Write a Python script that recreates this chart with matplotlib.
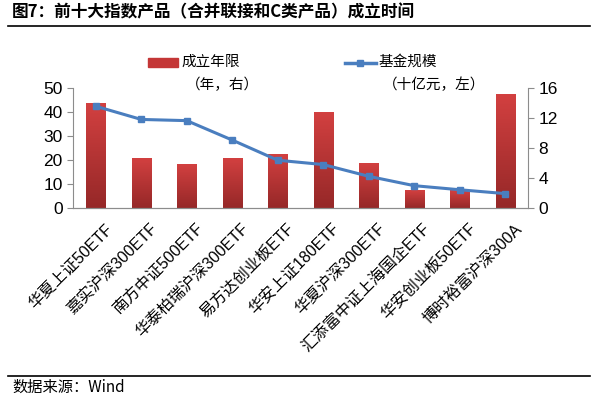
import numpy as np
import matplotlib
matplotlib.use('Agg')
import matplotlib.pyplot as plt
from matplotlib.lines import Line2D
from matplotlib.patches import Rectangle

plt.rcParams['font.family'] = ['Liberation Sans', 'Noto Sans CJK SC', 'DejaVu Sans']

funds = ['华夏上证50ETF', '嘉实沪深300ETF', '南方中证500ETF', '华泰柏瑞沪深300ETF',
         '易方达创业板ETF', '华安上证180ETF', '华夏沪深300ETF', '汇添富中证上海国企ETF',
         '华安创业板50ETF', '博时裕富沪深300A']
years = [13.9, 6.6, 5.8, 6.6, 7.2, 12.7, 5.9, 2.3, 2.4, 15.2]      # 成立年限 (右)
scale = [42.4, 36.9, 36.4, 28.3, 19.9, 18.1, 13.2, 9.3, 7.6, 6.0]  # 基金规模 (左)

fig = plt.figure(figsize=(5.97, 3.96), dpi=100)
ax = fig.add_axes([73/597, 1-208/396, 455/597, 120/396])
ax2 = ax.twinx()

x = np.arange(len(funds))
w = 0.42
# gradient bars on right axis
grad = np.linspace(0, 1, 64).reshape(-1, 1)
cmap = matplotlib.colors.LinearSegmentedColormap.from_list('r', ['#962828', '#d24040'])
for xi, h in zip(x, years):
    ax2.imshow(grad, extent=[xi-w/2, xi+w/2, 0, h], origin='lower', cmap=cmap,
               aspect='auto', zorder=1)
ax2.set_ylim(0, 16)
ax2.set_xlim(-0.5, len(funds)-0.5)

# line on left axis, drawn above bars
ax.set_zorder(ax2.get_zorder()+1)
ax.patch.set_visible(False)
ax.plot(x, scale, color='#4a7ebf', lw=2.2, marker='s', ms=5, zorder=3)
ax.set_ylim(0, 50)
ax.set_xlim(-0.5, len(funds)-0.5)
ax.set_yticks([0, 10, 20, 30, 40, 50])
ax2.set_yticks([0, 4, 8, 12, 16])

for a in (ax, ax2):
    for s in a.spines.values():
        s.set_color('#8c8c8c')
    a.spines['top'].set_visible(False)
    a.tick_params(colors='#8c8c8c', labelcolor='black', labelsize=12.5, length=4)
ax.spines['right'].set_visible(False)
ax2.spines['left'].set_visible(False)

ax.set_xticks(np.arange(len(funds)+1)-0.5)
ax.set_xticklabels([])
ax.tick_params(axis='x', length=5)
ax2.set_xticks([])
for xi, name in zip(x, funds):
    ax.text(xi+0.2, -5.5, name, rotation=45, ha='right', va='top',
            rotation_mode='anchor', fontsize=11.5,
            family=['Liberation Sans', 'Noto Sans CJK SC'])

# legend
fig.patches.append(Rectangle((148/597, 1-67/396), 30/597, 9/396, transform=fig.transFigure,
                             color='#c43636'))
fig.text(181/597, 1-62/396, '成立年限', fontsize=10.5, va='center', family=['Noto Sans CJK SC'])
fig.text(186/597, 1-85/396, '（年，右）', fontsize=10.5, va='center', family=['Noto Sans CJK SC'])
fig.lines.append(Line2D([345/597, 376/597], [1-63/396]*2, transform=fig.transFigure,
                        color='#4a7ebf', lw=2.5))
fig.lines.append(Line2D([360/597], [1-63/396], transform=fig.transFigure,
                        color='#4a7ebf', marker='s', ms=5, lw=0))
fig.text(379/597, 1-62/396, '基金规模', fontsize=10.5, va='center', family=['Noto Sans CJK SC'])
fig.text(383/597, 1-85/396, '（十亿元，左）', fontsize=10.5, va='center', family=['Noto Sans CJK SC'])

# title and footer
fig.text(12/597, 1-12/396, '图7：前十大指数产品（合并联接和C类产品）成立时间', fontsize=12,
         fontweight='bold', va='center', family=['Noto Sans CJK SC'])
fig.lines.append(Line2D([8/597, 590/597], [1-26/396]*2, transform=fig.transFigure,
                        color='black', lw=1.2))
fig.lines.append(Line2D([8/597, 590/597], [1-376/396]*2, transform=fig.transFigure,
                        color='black', lw=1.2))
fig.text(12/597, 1-387/396, '数据来源：Wind', fontsize=11, va='center',
         family=['Noto Sans CJK SC', 'Liberation Sans'])

fig.savefig('out.png', dpi=100)
